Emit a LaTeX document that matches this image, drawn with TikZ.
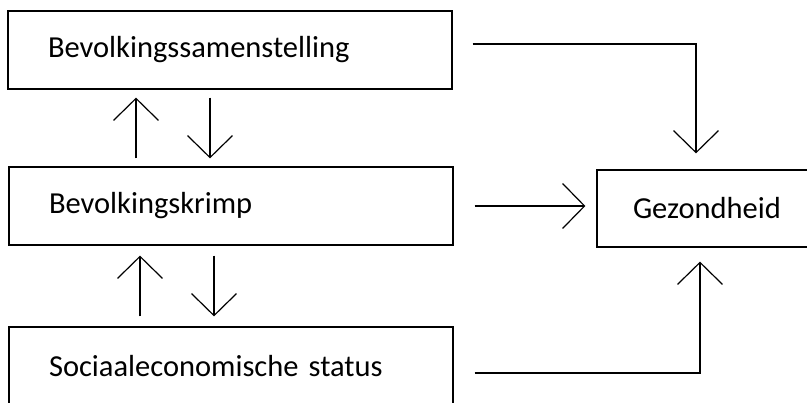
\documentclass[tikz,border=0pt]{standalone}
\usepackage{fontspec}
\setmainfont{Carlito}
\usetikzlibrary{arrows.meta}
\usetikzlibrary{positioning}

\tikzset{
  blok/.style={draw=black,line width=1.2pt,rectangle,minimum height=78pt,
    text width=364pt,inner xsep=40pt,align=left},
  pijl/.style={line width=1.2pt,-{Straight Barb[length=22pt,width=45pt,line width=1.2pt]},
    shorten <=8pt,shorten >=8pt}
}

\begin{document}
\begin{tikzpicture}[x=1pt,y=-1pt,font=\fontsize{30.5}{36}\selectfont]
\useasboundingbox (0,0) rectangle (807,403);

\node[blok] (samen) at (230,50) {Bevolkingssamenstelling};
\node[blok] (krimp) at (231,206) {Bevolkingskrimp};
\node[blok] (ses) at (231,366) {Sociaaleconomische status};
\node[draw=black,line width=1.2pt,rectangle,minimum height=77pt,
  text width=188pt,inner xsep=36pt,align=left] (gezond) at (727,208.5) {Gezondheid};

\draw[pijl] ([xshift=-95pt]krimp.north) -- ([xshift=-95pt]krimp.north |- samen.south);
\draw[pijl] ([xshift=-20pt]samen.south) -- ([xshift=-20pt]samen.south |- krimp.north);
\draw[pijl,shorten <=10pt,shorten >=10pt] ([xshift=-91pt]ses.north) -- ([xshift=-91pt]ses.north |- krimp.south);
\draw[pijl,shorten <=10pt,shorten >=10pt] ([xshift=-17pt]krimp.south) -- ([xshift=-17pt]krimp.south |- ses.north);

\draw[pijl,shorten <=20pt,shorten >=16pt] ([yshift=6pt]samen.east) -| ([xshift=-31pt]gezond.north);
\draw[pijl,shorten <=21pt,shorten >=11pt] (krimp.east) -- (krimp.east -| gezond.west);
\draw[pijl,shorten <=21pt,shorten >=14pt] ([yshift=-7pt]ses.east) -| ([xshift=-27pt]gezond.south);

\end{tikzpicture}
\end{document}
